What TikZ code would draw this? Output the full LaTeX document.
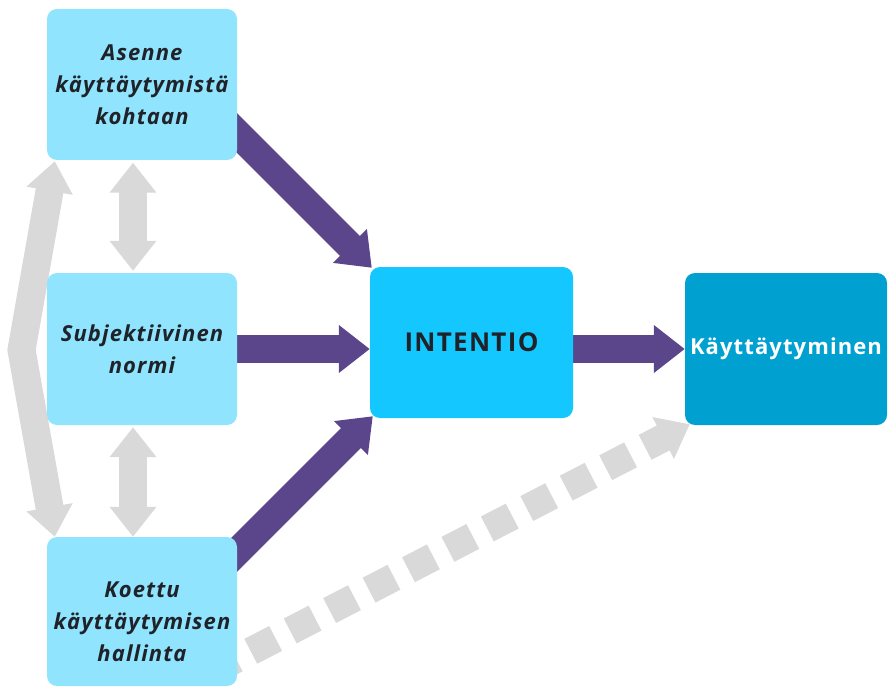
\documentclass[tikz,border=0pt]{standalone}
\usepackage{fontspec}
\setmainfont{Open Sans}
\newfontfamily\boxfont[LetterSpace=5]{Open Sans}
\usetikzlibrary{arrows.meta,calc}
\pgfdeclarelayer{bg}
\pgfsetlayers{bg,main}

\definecolor{factorfill}{HTML}{91E4FE}
\definecolor{intentfill}{HTML}{14C8FF}
\definecolor{behavefill}{HTML}{00A0D1}
\definecolor{flowpurple}{HTML}{5B468B}
\definecolor{linkgray}{HTML}{D9D9D9}
\definecolor{inkdark}{HTML}{1F2329}

\tikzset{
  factorbox/.style={fill=factorfill, rounded corners=10pt, minimum width=190pt,
    inner sep=0pt, align=center, text=inkdark,
    font=\boxfont\fontsize{22}{32}\selectfont\bfseries\itshape},
  factortext/.style={align=center, text=inkdark, inner sep=0pt,
    font=\boxfont\fontsize{22}{32}\selectfont\bfseries\itshape},
  intentbox/.style={fill=intentfill, rounded corners=10pt, minimum width=203pt,
    minimum height=151pt, inner sep=0pt, text=inkdark,
    font=\boxfont\fontsize{26}{30}\selectfont\bfseries},
  behavebox/.style={fill=behavefill, rounded corners=10pt, minimum width=202pt,
    minimum height=152pt, inner sep=0pt, text=white,
    font=\boxfont\fontsize{22}{30}\selectfont\bfseries},
  flowarrow/.style={draw=flowpurple, line width=28pt,
    -{Triangle[width=46pt,length=31pt]}},
  linkarrow/.style={draw=linkgray, line width=28pt, line join=miter,
    {Triangle[width=45pt,length=30pt]}-{Triangle[width=45pt,length=30pt]}},
  dasharrow/.style={draw=linkgray, line width=28pt,
    dash pattern=on 28pt off 16.4pt, dash phase=19pt,
    -{Triangle[width=45pt,length=30pt]}},
}

\begin{document}
\begin{tikzpicture}[x=1pt,y=-1pt]
\useasboundingbox (0,0) rectangle (888,687);

% factor boxes
\node[factorbox, minimum height=151pt] (A) at (142,84.5)
  {Asenne\\käyttäytymistä\\kohtaan};
\node[factorbox, minimum height=152pt] (S) at (142,349)
  {Subjektiivinen\\normi};
\node[factorbox, minimum height=149pt] (K) at (142,611.5) {};
\node[factortext] (Kt) at ($(K.center)+(0,10)$)
  {Koettu\\käyttäytymisen\\hallinta};

% intention and behaviour
\node[intentbox] (I) at (471.5,342.5) {INTENTIO};
\node[behavebox] (B) at (786,349) {Käyttäytyminen};

% anchor points for the connectors
\coordinate (tipA) at ($(I.north west)+(2,1)$);
\coordinate (tipK) at ($(I.south west)+(3,-2)$);
\coordinate (bend) at (21.5,350);
\coordinate (dashstart) at ($(K.east)+(-9,51.5)$);
\coordinate (dashtip) at ($(B.south west)+(5,-1)$);

\begin{pgfonlayer}{bg}
  % purple influence arrows
  \draw[flowarrow] ($(tipA)+(-172,-172)$) -- (tipA);
  \draw[flowarrow] ($(S.east)+(-10,0)$) -- (S.east -| I.west);
  \draw[flowarrow] ($(tipK)+(-173,173)$) -- (tipK);
  \draw[flowarrow] ($(I.east |- B.west)+(-10,0)$) -- (B.west);

  % grey correlations between the factors
  \draw[linkarrow] ($(A.south)+(-9,2.5)$) -- ($(S.north)+(-9,-2)$);
  \draw[linkarrow] ($(S.south)+(-9,2)$) -- ($(K.north)+(-9,0)$);
  \draw[linkarrow] ($(A.south west)+(8,1)$) -- (bend) -- ($(K.north west)+(8,0)$);

  % dashed direct path from control to behaviour
  \draw[dasharrow] (dashstart) -- (dashtip);
\end{pgfonlayer}
\end{tikzpicture}
\end{document}
